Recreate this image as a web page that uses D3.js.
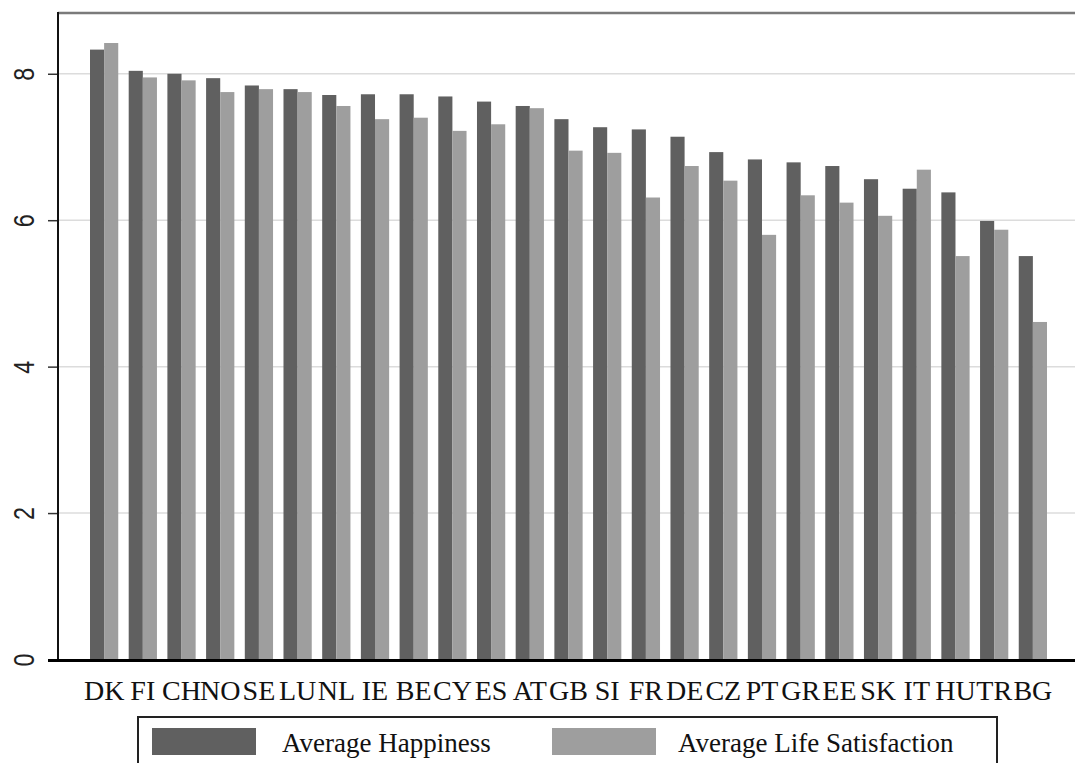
<!DOCTYPE html>
<html>
<head>
<meta charset="utf-8">
<script src="https://cdn.jsdelivr.net/npm/d3@7"></script>
<style>
  body { margin: 0; background: #fff; }
  svg { display: block; }
</style>
</head>
<body>
<svg width="1075" height="763"></svg>
<script>
  // country codes, ordered by happiness
  const countries = ['DK', 'FI', 'CH', 'NO', 'SE', 'LU', 'NL', 'IE', 'BE', 'CY', 'ES', 'AT', 'GB',
    'SI', 'FR', 'DE', 'CZ', 'PT', 'GR', 'EE', 'SK', 'IT', 'HU', 'TR', 'BG'];
  const happiness = [8.33, 8.04, 8.00, 7.94, 7.84, 7.79, 7.71, 7.72, 7.72, 7.69, 7.62, 7.56, 7.38,
    7.27, 7.24, 7.14, 6.93, 6.83, 6.79, 6.74, 6.56, 6.43, 6.38, 5.99, 5.51];
  const lifeSatisfaction = [8.42, 7.95, 7.91, 7.75, 7.79, 7.75, 7.56, 7.38, 7.40, 7.22, 7.31, 7.53, 6.95,
    6.92, 6.31, 6.74, 6.54, 5.80, 6.34, 6.24, 6.06, 6.69, 5.51, 5.87, 4.61];
  const seriesNames = ['Average Happiness', 'Average Life Satisfaction'];
  const seriesColors = ['#606060', '#9e9e9e'];
  const yTicks = [0, 2, 4, 6, 8];

  const data = countries.map((c, i) => ({ country: c, values: [happiness[i], lifeSatisfaction[i]] }));

  const svg = d3.select('svg');
  const width = +svg.attr('width');

  const plotLeft = 58;
  const plotTop = 13;
  const plotBottom = 659.5;

  const xScale = d3.scaleBand()
    .domain(countries)
    .range([90, 1047])
    .paddingInner(0.27)
    .paddingOuter(0);

  const xInner = d3.scaleBand()
    .domain([0, 1])
    .range([0, xScale.bandwidth()]);

  const yScale = d3.scaleLinear()
    .domain([0, 8.83])
    .range([plotBottom, plotTop]);

  // gridlines
  svg.append('g')
    .selectAll('line')
    .data(yTicks.filter(d => d > 0))
    .enter().append('line')
    .attr('x1', plotLeft)
    .attr('x2', width)
    .attr('y1', d => yScale(d))
    .attr('y2', d => yScale(d))
    .attr('stroke', '#dcdcdc')
    .attr('stroke-width', 1.5);

  // top frame line
  svg.append('line')
    .attr('x1', plotLeft).attr('x2', width)
    .attr('y1', plotTop).attr('y2', plotTop)
    .attr('stroke', '#7a7a7a')
    .attr('stroke-width', 2.5);

  // bars
  const groups = svg.append('g')
    .selectAll('g')
    .data(data)
    .enter().append('g')
    .attr('transform', d => `translate(${xScale(d.country)},0)`);

  groups.selectAll('rect')
    .data(d => d.values)
    .enter().append('rect')
    .attr('x', (d, i) => xInner(i))
    .attr('width', xInner.bandwidth())
    .attr('y', d => yScale(d))
    .attr('height', d => yScale(0) - yScale(d))
    .attr('fill', (d, i) => seriesColors[i]);

  // y axis
  const yAxis = d3.axisLeft(yScale)
    .tickValues(yTicks)
    .tickSize(10)
    .tickFormat(d3.format('d'));

  const yAxisG = svg.append('g')
    .attr('transform', `translate(${plotLeft},0)`)
    .call(yAxis);
  yAxisG.select('.domain').remove();
  yAxisG.selectAll('.tick line').attr('stroke', '#333').attr('stroke-width', 1.5);
  yAxisG.selectAll('.tick text')
    .attr('x', 0).attr('y', 0).attr('dy', null)
    .attr('transform', 'translate(-34,0) rotate(-90) scale(0.78,1)')
    .attr('text-anchor', 'middle')
    .attr('dominant-baseline', 'central')
    .attr('font-family', 'Liberation Sans, Arial, sans-serif')
    .attr('font-size', 30)
    .attr('fill', '#222');

  svg.append('line')
    .attr('x1', plotLeft).attr('x2', plotLeft)
    .attr('y1', plotTop - 1).attr('y2', plotBottom)
    .attr('stroke', '#111')
    .attr('stroke-width', 2);

  // x axis
  const xAxis = d3.axisBottom(xScale).tickSize(0).tickPadding(0);
  const xAxisG = svg.append('g')
    .attr('transform', `translate(0,${plotBottom})`)
    .call(xAxis);
  xAxisG.select('.domain').remove();
  xAxisG.selectAll('.tick text')
    .attr('y', 40).attr('dy', null)
    .attr('font-family', 'Liberation Serif, Times New Roman, serif')
    .attr('font-size', 28)
    .attr('fill', '#111');

  svg.append('line')
    .attr('x1', plotLeft - 10).attr('x2', width)
    .attr('y1', plotBottom + 1).attr('y2', plotBottom + 1)
    .attr('stroke', '#000')
    .attr('stroke-width', 3);

  // legend
  const legend = svg.append('g');
  legend.append('rect')
    .attr('x', 138).attr('y', 717)
    .attr('width', 859).attr('height', 70)
    .attr('fill', 'none')
    .attr('stroke', '#222')
    .attr('stroke-width', 2);

  const legendItems = legend.selectAll('g.item')
    .data(seriesNames)
    .enter().append('g')
    .attr('class', 'item')
    .attr('transform', (d, i) => `translate(${i === 0 ? 152 : 552},728)`);

  legendItems.append('rect')
    .attr('width', 104).attr('height', 27)
    .attr('fill', (d, i) => seriesColors[i]);

  legendItems.append('text')
    .attr('x', (d, i) => i === 0 ? 130 : 126)
    .attr('y', 24)
    .attr('font-family', 'Liberation Serif, Times New Roman, serif')
    .attr('font-size', 27)
    .attr('fill', '#111')
    .text(d => d);
</script>
</body>
</html>
